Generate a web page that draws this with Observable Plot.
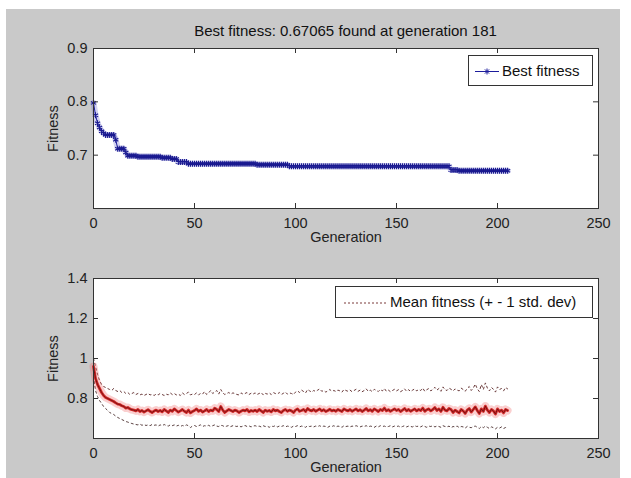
<!DOCTYPE html>
<html><head><meta charset="utf-8">
<script src="https://cdn.jsdelivr.net/npm/d3@7"></script>
<script src="https://cdn.jsdelivr.net/npm/@observablehq/plot@0.6"></script>
<style>
body{margin:0;background:#fff;font-family:"Liberation Sans",Arial,sans-serif;}
#wrap{position:relative;width:631px;height:478px;overflow:hidden;background:#fff;}
#fig{position:absolute;left:6px;top:9px;width:614px;height:469px;background:#c9c9c9;}
.abs{position:absolute;}
.title{left:93px;width:505px;top:22px;text-align:center;font-size:15px;color:#111;}
.legend{background:#fff;border:1px solid #333;box-sizing:border-box;font-size:15px;color:#111;}
.legend svg{position:absolute;left:0;top:0;}
.legend span{position:absolute;top:6px;white-space:nowrap;}
</style></head>
<body>
<div id="wrap">
  <div id="fig"></div>
  <div id="p1" class="abs" style="left:0;top:0"></div>
  <div id="p2" class="abs" style="left:0;top:230px"></div>
  <div class="abs title">Best fitness: 0.67065 found at generation 181</div>
  <div class="abs legend" style="left:468px;top:55px;width:125px;height:31px;">
    <svg width="40" height="31"><line x1="6" x2="30" y1="15.5" y2="15.5" stroke="#1c1c9c" stroke-width="1"/>
      <path d="M18,12.5v6M15,15.5h6M15.9,13.4l4.2,4.2M20.1,13.4l-4.2,4.2" stroke="#1c1c9c" stroke-width="1"/></svg>
    <span style="left:33px">Best fitness</span>
  </div>
  <div class="abs legend" style="left:335px;top:286px;width:258px;height:32px;">
    <svg width="60" height="32"><line x1="8" x2="50" y1="16" y2="16" stroke="#7a3a3a" stroke-width="1" stroke-dasharray="2,2"/></svg>
    <span style="left:54px">Mean fitness (+ - 1 std. dev)</span>
  </div>
</div>
<script>
// ---------- data ----------
const xTickValues = [0, 50, 100, 150, 200, 250];
const yTicksTop = [0.7, 0.8, 0.9];
const yTicksBottom = [0.8, 1, 1.2, 1.4];

// best fitness per generation (0..205)
const bestFitness = [
0.798,0.775,0.76,0.752,0.745,0.741,0.738,0.738,0.738,0.738,
0.738,0.729,0.712,0.712,0.712,0.712,0.705,0.699,0.699,0.699,
0.699,0.699,0.697,0.697,0.697,0.697,0.697,0.697,0.697,0.697,
0.697,0.697,0.697,0.697,0.695,0.695,0.695,0.695,0.695,0.693,
0.693,0.693,0.687,0.687,0.687,0.687,0.687,0.684,0.684,0.684,
0.684,0.684,0.684,0.684,0.684,0.684,0.684,0.684,0.684,0.684,
0.684,0.684,0.684,0.684,0.684,0.684,0.684,0.684,0.684,0.684,
0.684,0.684,0.684,0.684,0.684,0.684,0.684,0.684,0.684,0.684,
0.684,0.682,0.682,0.682,0.682,0.682,0.682,0.682,0.682,0.682,
0.682,0.682,0.682,0.682,0.682,0.682,0.682,0.679,0.679,0.679,
0.679,0.679,0.679,0.679,0.679,0.679,0.679,0.679,0.679,0.679,
0.679,0.679,0.679,0.679,0.679,0.679,0.679,0.679,0.679,0.679,
0.679,0.679,0.679,0.679,0.679,0.679,0.679,0.679,0.679,0.679,
0.679,0.679,0.679,0.679,0.679,0.679,0.679,0.679,0.679,0.679,
0.679,0.679,0.679,0.679,0.679,0.679,0.679,0.679,0.679,0.679,
0.679,0.679,0.679,0.679,0.679,0.679,0.679,0.679,0.679,0.679,
0.679,0.679,0.679,0.679,0.679,0.679,0.679,0.679,0.679,0.679,
0.679,0.679,0.679,0.679,0.679,0.679,0.679,0.672,0.672,0.672,
0.672,0.6707,0.6707,0.6707,0.6707,0.6707,0.6707,0.6707,0.6707,0.6707,
0.6707,0.6707,0.6707,0.6707,0.6707,0.6707,0.6707,0.6707,0.6707,0.6707,
0.6707,0.6707,0.6707,0.6707,0.6707,0.6707
];

// mean fitness per generation (0..205)
const meanFitness = [
0.96,0.90,0.87,0.85,0.83,0.815,0.805,0.80,0.795,0.79,
0.785,0.778,0.772,0.77,0.764,0.76,0.752,0.755,0.748,0.744,
0.742,0.738,0.745,0.735,0.74,0.732,0.738,0.744,0.736,0.73,
0.737,0.742,0.735,0.74,0.733,0.745,0.738,0.73,0.742,0.736,
0.748,0.74,0.732,0.738,0.745,0.736,0.73,0.742,0.728,0.735,
0.74,0.748,0.736,0.742,0.732,0.738,0.745,0.735,0.742,0.738,
0.752,0.745,0.735,0.76,0.742,0.73,0.738,0.745,0.74,0.735,
0.742,0.738,0.73,0.736,0.742,0.738,0.745,0.733,0.74,0.736,
0.742,0.735,0.745,0.738,0.73,0.742,0.736,0.74,0.733,0.745,
0.738,0.742,0.735,0.73,0.74,0.745,0.736,0.742,0.738,0.73,
0.742,0.748,0.736,0.74,0.745,0.735,0.75,0.742,0.738,0.745,
0.736,0.742,0.748,0.738,0.744,0.735,0.74,0.746,0.738,0.742,
0.736,0.745,0.74,0.735,0.748,0.742,0.738,0.745,0.736,0.742,
0.748,0.738,0.744,0.735,0.742,0.75,0.738,0.744,0.736,0.748,
0.742,0.735,0.745,0.74,0.752,0.738,0.744,0.736,0.742,0.748,
0.74,0.745,0.735,0.742,0.75,0.738,0.745,0.736,0.742,0.748,
0.738,0.745,0.74,0.752,0.736,0.744,0.748,0.738,0.745,0.755,
0.74,0.748,0.735,0.756,0.742,0.738,0.75,0.745,0.73,0.742,
0.735,0.728,0.745,0.738,0.725,0.742,0.75,0.732,0.745,0.758,
0.74,0.725,0.748,0.735,0.762,0.742,0.73,0.745,0.738,0.722,
0.748,0.735,0.742,0.728,0.745,0.74
];

// mean + 1 std. dev (0..205)
const upperStd = [
1.0,0.96,0.92,0.89,0.87,0.86,0.855,0.85,0.845,0.84,
0.85,0.84,0.835,0.84,0.83,0.835,0.825,0.83,0.82,0.825,
0.83,0.82,0.825,0.818,0.822,0.815,0.82,0.825,0.818,0.82,
0.815,0.822,0.818,0.825,0.82,0.815,0.822,0.818,0.828,0.82,
0.825,0.818,0.822,0.815,0.828,0.82,0.825,0.832,0.818,0.822,
0.82,0.828,0.818,0.825,0.822,0.835,0.82,0.828,0.84,0.825,
0.832,0.84,0.822,0.845,0.828,0.82,0.825,0.83,0.822,0.828,
0.825,0.82,0.818,0.828,0.822,0.825,0.83,0.82,0.826,0.822,
0.828,0.82,0.825,0.83,0.818,0.826,0.822,0.828,0.82,0.83,
0.825,0.822,0.83,0.82,0.826,0.832,0.822,0.828,0.825,0.82,
0.832,0.838,0.83,0.842,0.835,0.828,0.845,0.838,0.832,0.84,
0.835,0.842,0.848,0.836,0.84,0.832,0.838,0.845,0.836,0.84,
0.835,0.842,0.838,0.832,0.845,0.84,0.836,0.842,0.834,0.84,
0.846,0.836,0.842,0.834,0.84,0.848,0.836,0.842,0.834,0.846,
0.84,0.835,0.845,0.838,0.85,0.836,0.842,0.834,0.84,0.846,
0.838,0.844,0.834,0.84,0.848,0.836,0.844,0.835,0.842,0.848,
0.838,0.845,0.84,0.852,0.836,0.844,0.85,0.838,0.846,0.856,
0.842,0.85,0.836,0.858,0.844,0.84,0.852,0.846,0.838,0.848,
0.842,0.838,0.852,0.845,0.836,0.85,0.86,0.84,0.852,0.872,
0.848,0.835,0.87,0.845,0.878,0.852,0.838,0.855,0.846,0.832,
0.858,0.845,0.85,0.838,0.855,0.848
];

// mean - 1 std. dev (0..205)
const lowerStd = [
0.91,0.84,0.81,0.79,0.775,0.76,0.75,0.74,0.73,0.725,
0.72,0.712,0.705,0.70,0.695,0.69,0.685,0.682,0.678,0.675,
0.672,0.67,0.668,0.672,0.666,0.67,0.665,0.668,0.664,0.67,
0.666,0.668,0.662,0.668,0.664,0.67,0.665,0.662,0.668,0.664,
0.668,0.662,0.666,0.66,0.665,0.662,0.668,0.664,0.655,0.662,
0.665,0.66,0.664,0.668,0.66,0.664,0.662,0.666,0.66,0.664,
0.668,0.662,0.66,0.666,0.664,0.658,0.662,0.665,0.66,0.664,
0.662,0.66,0.664,0.658,0.662,0.665,0.66,0.663,0.658,0.662,
0.664,0.66,0.662,0.658,0.664,0.66,0.662,0.656,0.662,0.66,
0.664,0.658,0.662,0.66,0.664,0.658,0.662,0.66,0.656,0.662,
0.66,0.664,0.658,0.662,0.66,0.656,0.664,0.66,0.662,0.658,
0.662,0.66,0.664,0.658,0.662,0.66,0.656,0.662,0.66,0.664,
0.658,0.662,0.66,0.656,0.664,0.66,0.662,0.658,0.662,0.66,
0.664,0.66,0.658,0.662,0.66,0.664,0.658,0.662,0.66,0.656,
0.662,0.658,0.664,0.66,0.662,0.658,0.66,0.664,0.658,0.662,
0.66,0.662,0.656,0.66,0.664,0.658,0.662,0.66,0.658,0.664,
0.66,0.662,0.658,0.664,0.66,0.656,0.662,0.66,0.664,0.658,
0.662,0.66,0.656,0.664,0.66,0.658,0.662,0.654,0.66,0.658,
0.662,0.655,0.66,0.658,0.652,0.66,0.656,0.654,0.66,0.662,
0.656,0.65,0.66,0.654,0.662,0.656,0.65,0.658,0.654,0.648,
0.656,0.652,0.658,0.65,0.655,0.652
];

// ---------- charts ----------
const font = "Liberation Sans, Arial, sans-serif";
const best = bestFitness.map((v, i) => ({gen: i, v}));
const stats = meanFitness.map((m, i) => ({gen: i, mean: m, up: upperStd[i], lo: lowerStd[i]}));
const plotW = 505, plotH = 160, tk = 5;

function inwardTicks(yTicks) {
  return [
    Plot.tickX(xTickValues, {x: d => d, insetTop: plotH - tk, stroke: "#333"}),
    Plot.tickX(xTickValues, {x: d => d, insetBottom: plotH - tk, stroke: "#333"}),
    Plot.tickY(yTicks, {y: d => d, insetRight: plotW - tk, stroke: "#333"}),
    Plot.tickY(yTicks, {y: d => d, insetLeft: plotW - tk, stroke: "#333"})
  ];
}

function common(yDomain, yTicks) {
  return {
    width: 631,
    marginLeft: 93, marginRight: 33, marginTop: 48,
    style: {background: "transparent", fontFamily: font, fontSize: "14.5px", color: "#222", overflow: "visible"},
    x: {domain: [0, 250], ticks: xTickValues, tickSize: 0, tickPadding: 9,
        label: "Generation", labelAnchor: "center", labelArrow: "none", labelOffset: 33},
    y: {domain: yDomain, ticks: yTicks, tickSize: 0, tickPadding: 6, tickFormat: d => String(d),
        label: "Fitness", labelAnchor: "center", labelArrow: "none", labelOffset: 46}
  };
}

const p1 = Plot.plot({
  ...common([0.6, 0.9], yTicksTop),
  height: 250, marginBottom: 42,
  marks: [
    Plot.frame({fill: "white"}),
    Plot.line(best, {x: "gen", y: "v", stroke: "#6a6ad0", strokeWidth: 6, strokeOpacity: 0.3}),
    Plot.line(best, {x: "gen", y: "v", stroke: "#1c1c9c", strokeWidth: 1}),
    Plot.dot(best, {x: "gen", y: "v", symbol: "asterisk", r: 2.8, stroke: "#1a1a90", strokeWidth: 1.1}),
    ...inwardTicks(yTicksTop),
    Plot.frame({stroke: "#333"})
  ]
});
document.getElementById("p1").append(p1);

const p2 = Plot.plot({
  ...common([0.6, 1.4], yTicksBottom),
  height: 248, marginBottom: 40,
  marks: [
    Plot.frame({fill: "white"}),
    Plot.line(stats, {x: "gen", y: "up", stroke: "#6a3a3a", strokeWidth: 1, strokeDasharray: "2,3"}),
    Plot.line(stats, {x: "gen", y: "lo", stroke: "#5a4040", strokeWidth: 1, strokeDasharray: "2,3"}),
    Plot.line(stats, {x: "gen", y: "mean", stroke: "#ee6060", strokeWidth: 8, strokeOpacity: 0.3}),
    Plot.line(stats, {x: "gen", y: "mean", stroke: "#d42a2a", strokeWidth: 2.8}),
    Plot.line(stats, {x: "gen", y: "mean", stroke: "#6e1010", strokeWidth: 0.9}),
    ...inwardTicks(yTicksBottom),
    Plot.frame({stroke: "#333"})
  ]
});
document.getElementById("p2").append(p2);
</script>
</body></html>
